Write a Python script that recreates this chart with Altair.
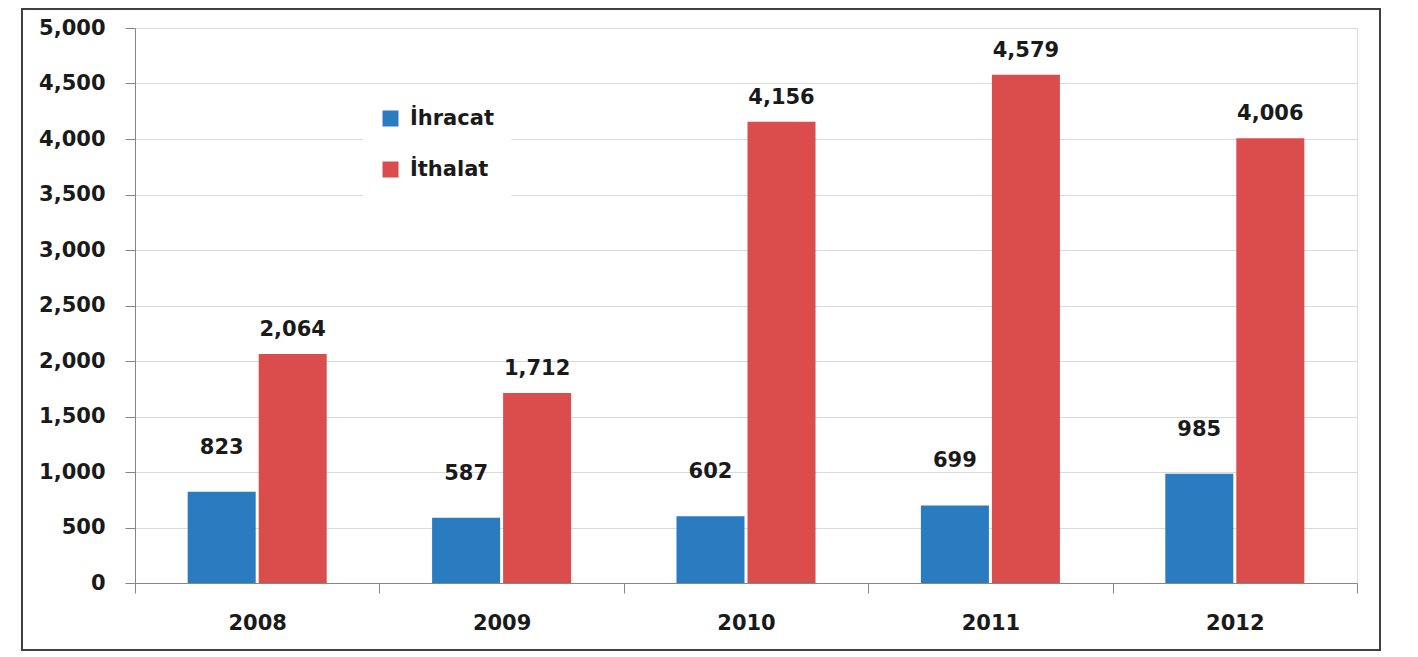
import altair as alt
import pandas as pd

years = ["2008", "2009", "2010", "2011", "2012"]
series = ["İhracat", "İthalat"]
ihracat = [823, 587, 602, 699, 985]
ithalat = [2064, 1712, 4156, 4579, 4006]
y_ticks = [0, 500, 1000, 1500, 2000, 2500, 3000, 3500, 4000, 4500, 5000]
colors = ["#2b7bc0", "#db4c4c"]

rows = []
for i, yr in enumerate(years):
    rows.append({"year": yr, "series": series[0], "value": ihracat[i]})
    rows.append({"year": yr, "series": series[1], "value": ithalat[i]})
df = pd.DataFrame(rows)

FONT = "DejaVu Sans"

x_enc = alt.X(
    "year:N",
    sort=years,
    scale=alt.Scale(paddingInner=0, paddingOuter=0),
    axis=alt.Axis(
        title=None, labelAngle=0, tickBand="extent", tickSize=10,
        labelPadding=19, labelFont=FONT, labelFontSize=21,
        labelFontWeight="bold", labelColor="#1a1a1a",
        domainColor="#868686", tickColor="#868686", grid=False,
    ),
)
xo_enc = alt.XOffset(
    "series:N", sort=series, scale=alt.Scale(paddingInner=0.0423, paddingOuter=0.742)
)
y_enc = alt.Y(
    "value:Q",
    scale=alt.Scale(domain=[0, 5000], nice=False),
    axis=alt.Axis(
        title=None, values=y_ticks, format=",d", tickSize=10, labelPadding=20,
        labelFont=FONT, labelFontSize=21, labelFontWeight="bold",
        labelColor="#1a1a1a", domainColor="#868686", tickColor="#868686",
        gridColor="#d9d9d9", grid=True,
    ),
)

bars = alt.Chart(df).mark_bar().encode(
    x=x_enc,
    xOffset=xo_enc,
    y=y_enc,
    color=alt.Color(
        "series:N",
        sort=series,
        scale=alt.Scale(domain=series, range=colors),
        legend=alt.Legend(
            title=None, orient="none", legendX=228, legendY=63,
            symbolType="square", symbolSize=256, symbolStrokeWidth=0,
            labelFont=FONT, labelFontSize=21, labelFontWeight="bold",
            labelColor="#1a1a1a", labelOffset=9, rowPadding=29,
            padding=17, fillColor="white",
        ),
    ),
)

labels_ih = alt.Chart(df).transform_filter(
    alt.datum.series == series[0]
).mark_text(
    font=FONT, fontSize=21, fontWeight="bold", color="#1a1a1a",
    baseline="middle", dy=-44,
).encode(
    x=alt.X("year:N", sort=years),
    xOffset=alt.XOffset("series:N", sort=series),
    y="value:Q",
    text=alt.Text("value:Q", format=",d"),
)

labels_it = alt.Chart(df).transform_filter(
    alt.datum.series == series[1]
).mark_text(
    font=FONT, fontSize=21, fontWeight="bold", color="#1a1a1a",
    baseline="middle", dy=-24,
).encode(
    x=alt.X("year:N", sort=years),
    xOffset=alt.XOffset("series:N", sort=series),
    y="value:Q",
    text=alt.Text("value:Q", format=",d"),
)

frame = alt.Chart(pd.DataFrame({"f": [0]})).mark_rect(
    filled=False, stroke="#404040", strokeWidth=2
).encode(
    x=alt.value(-113), x2=alt.value(1245), y=alt.value(-19), y2=alt.value(622)
)

chart = alt.layer(bars, labels_ih, labels_it, frame).properties(
    width=1222,
    height=555,
    autosize=alt.AutoSizeParams(type="none"),
    padding={"left": 127, "top": 20, "right": 30, "bottom": 68},
).configure_view(stroke=None).configure(background="white")

chart.save("out.html", embed_options={"renderer": "svg", "actions": False})
